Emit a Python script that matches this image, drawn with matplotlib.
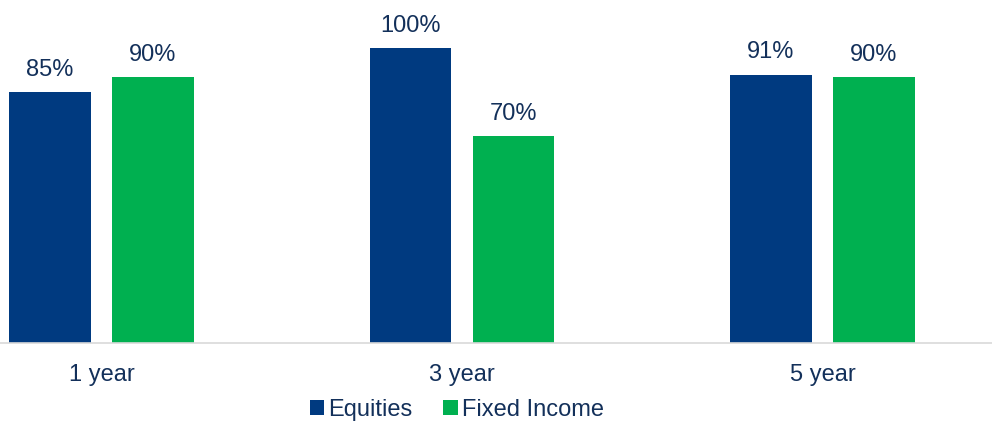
import matplotlib
matplotlib.use("Agg")
import matplotlib.pyplot as plt
import numpy as np

categories = ["1 year", "3 year", "5 year"]
equities = [85, 100, 91]
fixed_income = [90, 70, 90]
series_names = ["Equities", "Fixed Income"]

navy = "#003A80"
green = "#00B050"
text_c = "#13305A"

plt.rcParams['font.family'] = ['Liberation Sans', 'DejaVu Sans']

W, H = 992, 422
fs = 17
fig = plt.figure(figsize=(W / 100, H / 100), dpi=100)
base_px = 342.5
top_px = 0
ax = fig.add_axes([0, (H - base_px) / H, 1, (base_px - top_px) / H])

unit = 360.5
x = np.arange(len(categories))
ax.set_xlim(-101.5 / unit, (W - 101.5) / unit)
px100 = 294.5
ax.set_ylim(0, 100 * base_px / px100)

bw = 0.225
off = 0.143
b1 = ax.bar(x - off, equities, bw, color=navy, label=series_names[0])
b2 = ax.bar(x + off, fixed_income, bw, color=green, label=series_names[1])

for bars, vals in ((b1, equities), (b2, fixed_income)):
    for r, v in zip(bars, vals):
        ax.annotate(f"{v}%", (r.get_x() + r.get_width() / 2, v), xytext=(0, 8),
                    textcoords="offset points", ha="center", va="bottom",
                    fontsize=fs, color=text_c)

for s in ["top", "right", "left"]:
    ax.spines[s].set_visible(False)
ax.spines["bottom"].set_color("#D9D9D9")
ax.spines["bottom"].set_linewidth(1.2)
ax.set_yticks([])
ax.set_xticks(x)
ax.set_xticklabels(categories, fontsize=fs, color=text_c)
ax.tick_params(axis="x", length=0, pad=15.5)

leg = fig.legend(handles=[b1, b2], labels=series_names, loc="center",
                 bbox_to_anchor=(457 / W, 1 - 410 / H), ncol=2, frameon=False,
                 fontsize=fs, handlelength=0.6, handleheight=0.6,
                 handletextpad=0.2, columnspacing=1.3, borderpad=0.1)
for t in leg.get_texts():
    t.set_color(text_c)

fig.savefig("out.png", dpi=100)
